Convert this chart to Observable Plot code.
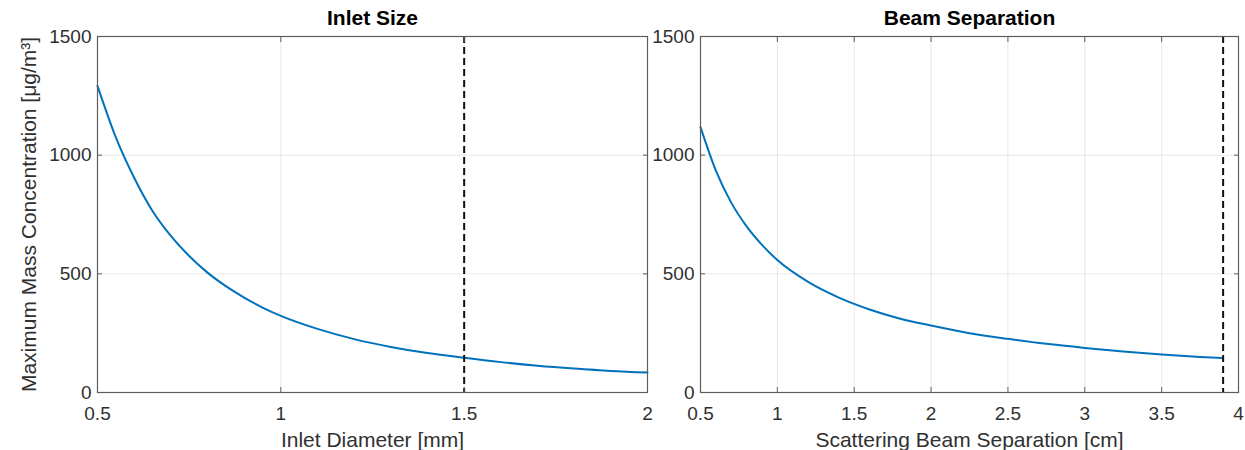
<!DOCTYPE html>
<html>
<head>
<meta charset="utf-8">
<script src="https://cdn.jsdelivr.net/npm/d3@7"></script>
<script src="https://cdn.jsdelivr.net/npm/@observablehq/plot@0.6"></script>
<style>
  html, body { margin: 0; padding: 0; background: #fff; }
  #wrap { display: flex; flex-direction: row; width: 1245px; height: 450px; }
  svg { overflow: visible; }
</style>
</head>
<body>
<div id="wrap"></div>
<script>
// ---- data ----
const panelTitles = ["Inlet Size", "Beam Separation"];
const xLabels = ["Inlet Diameter [mm]", "Scattering Beam Separation [cm]"];
const yLabel = "Maximum Mass Concentration [μg/m³]";

const inletDiameter = [0.5, 0.55, 0.6, 0.65, 0.7, 0.75, 0.8, 0.85, 0.9, 0.95, 1.0, 1.1, 1.2, 1.3, 1.4, 1.5, 1.6, 1.7, 1.8, 1.9, 2.0];
const inletConc     = [1292, 1075, 905, 765, 660, 575, 505, 448, 400, 358, 323, 268, 225, 192, 166, 146, 128, 113, 101, 91, 84];

const beamSeparation = [0.5, 0.6, 0.7, 0.8, 0.9, 1.0, 1.2, 1.4, 1.6, 1.8, 2.0, 2.25, 2.5, 2.75, 3.0, 3.25, 3.5, 3.75, 3.9];
const beamConc       = [1118, 935, 800, 700, 622, 558, 466, 400, 350, 311, 282, 250, 226, 205, 188, 173, 160, 150, 145];

const inletTicks = [0.5, 1, 1.5, 2];
const beamTicks  = [0.5, 1, 1.5, 2, 2.5, 3, 3.5, 4];
const yTicks     = [0, 500, 1000, 1500];
const inletSelected = [1.5];
const beamSelected  = [3.9];

// ---- styling ----
const FONT = "'Liberation Sans', Arial, Helvetica, sans-serif";
const TXT = "#303030";
const AX = "#5e5e5e";
const LINE = "#0072BD";

function panel({xs, ys, xDomain, xTicks, sel, title, xLabel, showYLabel, width, marginLeft, marginRight}) {
  const data = xs.map((x, i) => ({x, y: ys[i]}));
  const fmt = d => String(d);
  return Plot.plot({
    width, height: 450,
    marginLeft, marginRight, marginTop: 36, marginBottom: 58,
    style: {fontFamily: FONT, fontSize: "19px", color: TXT, background: "transparent", overflow: "visible"},
    x: {domain: xDomain, ticks: xTicks},
    y: {domain: [0, 1500], ticks: yTicks},
    marks: [
      Plot.gridX(xTicks, {stroke: "#000", strokeOpacity: 0.09}),
      Plot.gridY(yTicks, {stroke: "#000", strokeOpacity: 0.09}),
      Plot.line(data, {x: "x", y: "y", stroke: LINE, strokeWidth: 2, curve: "monotone-x"}),
      Plot.ruleX(sel, {stroke: "#111", strokeWidth: 2, strokeDasharray: "7,4"}),
      Plot.frame({stroke: AX, strokeWidth: 1.2}),
      // inward ticks on all four sides
      Plot.axisX(xTicks, {anchor: "bottom", tickSize: -5, text: null, label: null, stroke: AX}),
      Plot.axisX(xTicks, {anchor: "top", tickSize: -5, text: null, label: null, stroke: AX}),
      Plot.axisY(yTicks, {anchor: "left", tickSize: -5, text: null, label: null, stroke: AX}),
      Plot.axisY(yTicks, {anchor: "right", tickSize: -5, text: null, label: null, stroke: AX}),
      // tick labels
      Plot.axisX(xTicks, {anchor: "bottom", tickSize: 0, tickPadding: 14, tickFormat: fmt, label: null, fill: TXT, fontSize: 19}),
      Plot.axisY(yTicks, {anchor: "left", tickSize: 0, tickPadding: 6, tickFormat: fmt, label: null, fill: TXT, fontSize: 19}),
      // titles and axis labels
      Plot.text([title], {frameAnchor: "top", dy: -18, lineAnchor: "middle", fontWeight: "bold", fontSize: 21, fill: "#000"}),
      Plot.text([xLabel], {frameAnchor: "bottom", dy: 48, lineAnchor: "middle", fontSize: 21, fill: TXT}),
      ...(showYLabel ? [Plot.text([yLabel], {frameAnchor: "left", rotate: -90, dx: -68, textAnchor: "middle", lineAnchor: "middle", fontSize: 21, fill: TXT})] : [])
    ]
  });
}

const wrap = document.getElementById("wrap");
wrap.appendChild(panel({
  xs: inletDiameter, ys: inletConc, xDomain: [0.5, 2], xTicks: inletTicks, sel: inletSelected,
  title: panelTitles[0], xLabel: xLabels[0], showYLabel: true,
  width: 660, marginLeft: 97, marginRight: 13
}));
wrap.appendChild(panel({
  xs: beamSeparation, ys: beamConc, xDomain: [0.5, 4], xTicks: beamTicks, sel: beamSelected,
  title: panelTitles[1], xLabel: xLabels[1], showYLabel: false,
  width: 585, marginLeft: 40, marginRight: 7
}));
</script>
</body>
</html>
